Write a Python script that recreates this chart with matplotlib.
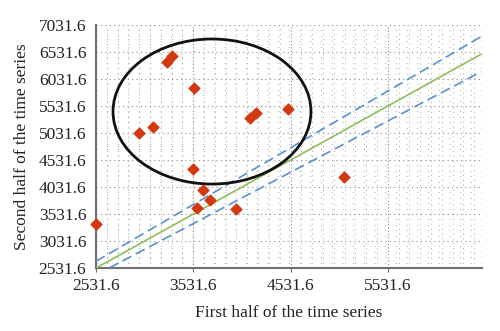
import matplotlib
matplotlib.use("Agg")
import matplotlib.pyplot as plt
from matplotlib.patches import Ellipse
from matplotlib.ticker import FixedLocator
import numpy as np

first_half = [2531.6, 2977, 3114, 3258, 3313, 3539, 3525, 3628, 3703, 3567, 3971, 4115, 4173, 4505, 5084]
second_half = [3341, 5026, 5137, 6352, 6458, 5871, 4365, 3970, 3797, 3648, 3619, 5304, 5397, 5471, 4211]
x_ticks = [2531.6, 3531.6, 4531.6, 5531.6]
y_ticks = [2531.6, 3031.6, 3531.6, 4031.6, 4531.6, 5031.6, 5531.6, 6031.6, 6531.6, 7031.6]
band = [0.95, 1.0, 1.05]
ellipse_center = (3724, 5430)
ellipse_size = (2035, 2685)

plt.rcParams['font.family'] = ['Liberation Serif', 'DejaVu Serif']
fig = plt.figure(figsize=(5.0, 3.31), dpi=100)
ax = fig.add_axes([0.192, 0.19, 0.772, 0.7345])

xmin, xmax = 2531.6, 6500
ax.set_xlim(xmin, xmax)
ax.set_ylim(2531.6, 7031.6)

ax.xaxis.set_major_locator(FixedLocator(x_ticks))
ax.yaxis.set_major_locator(FixedLocator(y_ticks))
ax.xaxis.set_minor_locator(FixedLocator(list(np.arange(2531.6, xmax, 1000/9))))
ax.yaxis.set_minor_locator(FixedLocator(list(np.arange(2531.6, 7031.7, 100))))
ax.grid(which='major', axis='x', color='#8a8a8a', linestyle=(0, (1, 2)), linewidth=0.8)
ax.grid(which='major', axis='y', color='#8a8a8a', linestyle=(0, (1, 3)), linewidth=0.8)
ax.grid(which='minor', axis='x', color='#a8a8a8', linestyle=(0, (1, 4)), linewidth=0.7)
ax.grid(which='minor', axis='y', color='#a8a8a8', linestyle=(0, (1, 10)), linewidth=0.7)
ax.tick_params(which='minor', length=0)
ax.tick_params(which='major', length=3, color='#707070', labelsize=12.5, pad=4, colors='#222222')
ax.tick_params(axis='y', which='major', length=0, pad=7)
ax.set_xticklabels([f"{t:.1f}" for t in x_ticks])
ax.set_yticklabels([f"{t:.1f}" for t in y_ticks])

lx = np.array([xmin, 6490])
ax.plot(lx, band[1] * lx, color='#8fbf5a', linewidth=1.2, zorder=3)
ax.plot(lx, band[0] * lx, color='#5b8fcf', linewidth=1.2, linestyle=(0, (6, 3)), zorder=3)
ax.plot(lx, band[2] * lx, color='#5b8fcf', linewidth=1.2, linestyle=(0, (6, 3)), zorder=3)

ax.scatter(first_half, second_half, marker='D', s=30, color='#d4380f', zorder=5, clip_on=False)

ell = Ellipse(ellipse_center, ellipse_size[0], ellipse_size[1], fill=False,
              edgecolor='#111111', linewidth=2.0, zorder=4)
ax.add_patch(ell)

for s in ['top', 'right']:
    ax.spines[s].set_visible(False)
for s in ['left', 'bottom']:
    ax.spines[s].set_color('#707070')
    ax.spines[s].set_linewidth(1.5)

ax.set_xlabel('First half of the time series', fontsize=12.5, color='#222222', labelpad=8)
ax.set_ylabel('Second half of the time series', fontsize=12.5, color='#222222', labelpad=6)

fig.savefig('out.png', dpi=100)
